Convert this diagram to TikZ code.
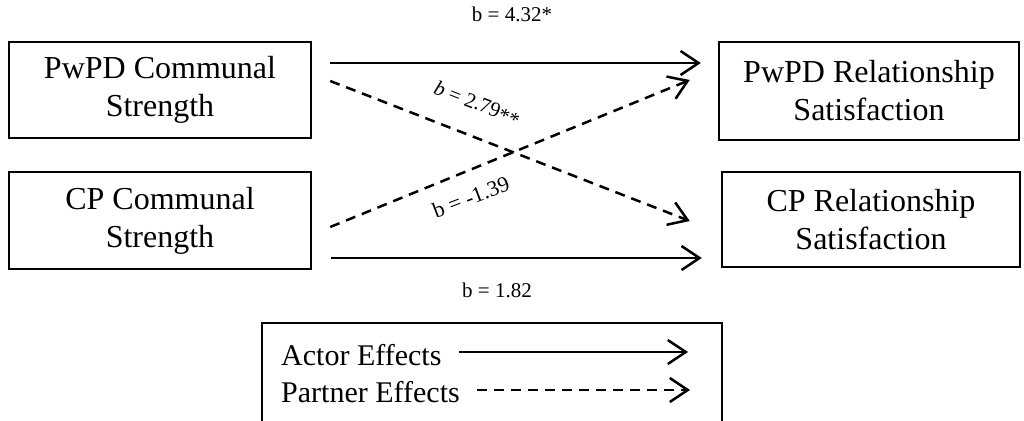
\documentclass[tikz,border=0pt]{standalone}
\usepackage{fontspec}
\setmainfont{Liberation Serif}
\usetikzlibrary{arrows.meta}
\begin{document}
\begin{tikzpicture}[x=1pt,y=-1pt,
  box/.style={draw, line width=2.5pt, minimum width=302pt, minimum height=96pt, align=center, font=\fontsize{32}{38}\selectfont, inner sep=0pt},
  actor/.style={line width=2.5pt, -{Straight Barb[length=18pt,width=24pt,line width=2.5pt]}},
  partner/.style={actor, dash pattern=on 10pt off 7pt},
  lbl/.style={font=\fontsize{21}{24}\selectfont, inner sep=0pt},
  legtxt/.style={font=\fontsize{30}{34}\selectfont, anchor=west, inner sep=0pt}]
\clip (0,0) rectangle (1024,420);
% boxes
\node[box] (b1) at (160,90) {PwPD Communal\\Strength};
\node[box, minimum height=97pt] (b2) at (160,220.5) {CP Communal\\Strength};
\node[box, minimum width=300pt, minimum height=98pt] (r1) at (869,91) {PwPD Relationship\\Satisfaction};
\node[box, minimum width=298pt, minimum height=95pt] (r2) at (871,219.5) {CP Relationship\\Satisfaction};
% arrows
\draw[actor] ([shift={(18,-27)}]b1.east) -- ([shift={(-17,-28)}]r1.west);
\draw[partner] ([shift={(18,-9)}]b1.east) -- ([shift={(-31,1.5)}]r2.west);
\draw[partner] ([shift={(18,6.5)}]b2.east) -- ([shift={(-28,-11)}]r1.west);
\draw[actor] ([shift={(19,37.5)}]b2.east) -- ([shift={(-19,38.5)}]r2.west);
% labels
\node[lbl] (l1) at (512,14) {b = 4.32*};
\node[lbl] (l4) at (497,290) {b = 1.82};
\node[lbl, rotate=-21] (l2) at (477,104) {\textit{b} = 2.79\raisebox{-0.25ex}{**}};
\node[lbl, font=\fontsize{22}{25}\selectfont, rotate=21] (l3) at (471,197) {b = -1.39};
% legend
\node[draw, line width=2.5pt, minimum width=460pt, minimum height=106pt, inner sep=0pt] (leg) at (492,376) {};
\node[legtxt] (ta) at (281,355) {Actor Effects};
\node[legtxt] (tp) at (281,392) {Partner Effects};
\coordinate (ea) at (688,352);
\coordinate (ep) at (690,390);
\draw[actor] ([shift={(17,-3)}]ta.east) -- (ea);
\draw[partner] ([shift={(17,-2)}]tp.east) -- (ep);
\end{tikzpicture}
\end{document}
